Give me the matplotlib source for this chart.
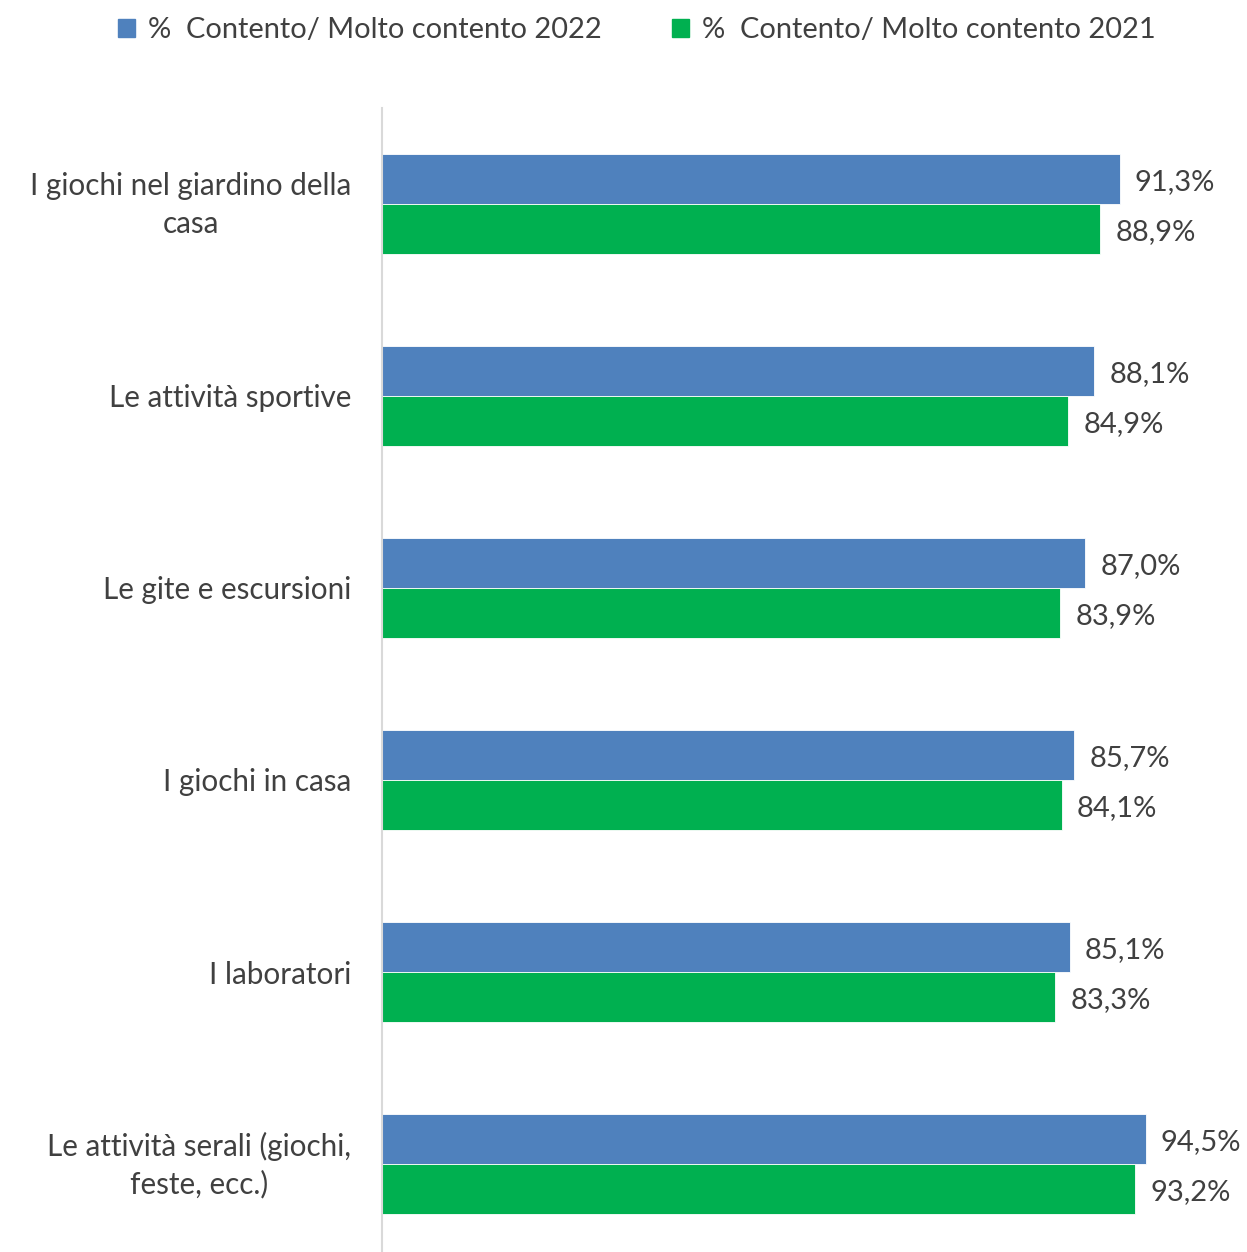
import numpy as np
from matplotlib import pyplot as plt
from matplotlib.patches import Patch
from matplotlib.transforms import ScaledTranslation

categories = [
    'I giochi nel giardino della\ncasa',
    'Le attività sportive',
    'Le gite e escursioni',
    'I giochi in casa',
    'I laboratori',
    'Le attività serali (giochi,\nfeste, ecc.)',
]
values_2022 = [91.3, 88.1, 87.0, 85.7, 85.1, 94.5]
values_2021 = [88.9, 84.9, 83.9, 84.1, 83.3, 93.2]
series_names = ['%  Contento/ Molto contento 2022', '%  Contento/ Molto contento 2021']

BLUE = '#4F81BD'
GREEN = '#00B050'
TEXT = '#404040'

plt.rcParams['font.family'] = ['Lato', 'DejaVu Sans']

W, H = 1247, 1252
fig = plt.figure(figsize=(W / 100, H / 100), dpi=100)
ax = fig.add_axes([382 / W, -8 / H, (1190 - 382) / W, (1260 - 108) / H])

y = np.arange(len(categories))
h = 0.26
b1 = ax.barh(y - h / 2, values_2022, height=h, color=BLUE, edgecolor='white', linewidth=0.6)
b2 = ax.barh(y + h / 2, values_2021, height=h, color=GREEN, edgecolor='white', linewidth=0.6)

for bars, vals in ((b1, values_2022), (b2, values_2021)):
    for rect, v in zip(bars, vals):
        ax.annotate(f'{v:.1f}%'.replace('.', ','),
                    xy=(rect.get_width(), rect.get_y() + rect.get_height() / 2),
                    xytext=(11, -2), textcoords='offset points',
                    ha='left', va='center', fontsize=21, color=TEXT,
                    annotation_clip=False)

ax.set_xlim(0, 100)
ax.set_ylim(len(categories) - 0.5, -0.5)
ax.set_yticks(y)
ax.set_yticklabels(categories, fontsize=21.3, color=TEXT, multialignment='center',
                   linespacing=1.4)
ax.tick_params(axis='y', length=0, pad=22)
# two-line labels sit a bit high in the original
for lab in ax.get_yticklabels():
    if '\n' in lab.get_text():
        lab.set_transform(lab.get_transform() + ScaledTranslation(0, 6 / 100, fig.dpi_scale_trans))
ax.set_xticks([])
for s in ('top', 'right', 'bottom'):
    ax.spines[s].set_visible(False)
ax.spines['left'].set_color('#D9D9D9')
ax.spines['left'].set_linewidth(1.5)

handles = [Patch(color=BLUE), Patch(color=GREEN)]
fig.legend(handles, series_names, loc='center', bbox_to_anchor=(637 / W, 1 - 30 / H),
           ncol=2, frameon=False, fontsize=20.9, labelcolor=TEXT,
           handlelength=0.6, handleheight=0.6, handletextpad=0.45, columnspacing=2.4)

fig.savefig('out.png', dpi=100)
